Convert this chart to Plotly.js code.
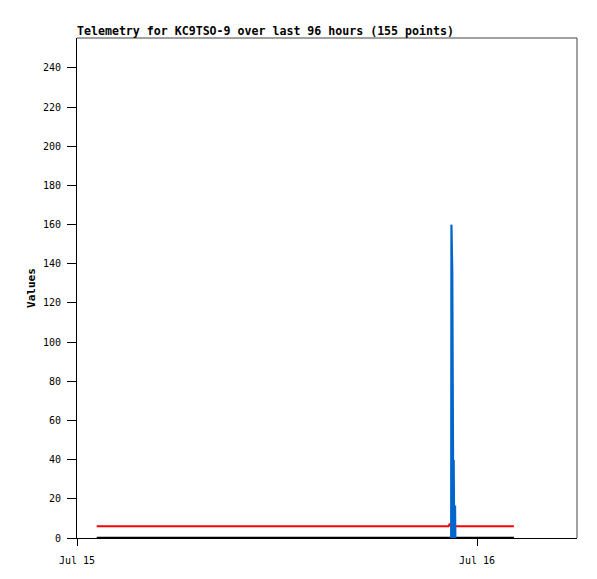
<!DOCTYPE html>
<html>
<head>
<meta charset="utf-8">
<script src="https://cdn.plot.ly/plotly-3.0.1.min.js"></script>
<style>html,body{margin:0;padding:0;background:#fff;}#chart{width:597px;height:579px;}</style>
</head>
<body>
<div id="chart"></div>
<script>
// Series
const blackTimes = ["2024-07-15 01:11", "2024-07-16 02:13"];
const blackValues = [0, 0];

const redTimes = ["2024-07-15 01:11", "2024-07-15 22:18", "2024-07-15 22:21", "2024-07-15 22:28", "2024-07-15 22:31", "2024-07-16 02:13"];
const redValues = [6, 6, 7, 7, 6, 6];

const blueTimes = ["2024-07-15 22:27", "2024-07-15 22:28", "2024-07-15 22:31", "2024-07-15 22:32", "2024-07-15 22:34", "2024-07-15 22:35", "2024-07-15 22:36", "2024-07-15 22:38", "2024-07-15 22:39", "2024-07-15 22:41", "2024-07-15 22:42"];
const blueValues = [0, 160, 136, 88, 40, 0, 40, 0, 16, 16, 0];

const xTickVals = ["2024-07-15", "2024-07-16"];
const xTickText = ["Jul 15", "Jul 16"];
const yTickVals = [0, 20, 40, 60, 80, 100, 120, 140, 160, 180, 200, 220, 240];

const mono = "DejaVu Sans Mono, monospace";

const traces = [
  {x: blackTimes, y: blackValues, type: "scatter", mode: "lines", line: {color: "#000000", width: 2.5}, hoverinfo: "skip"},
  {x: redTimes, y: redValues, type: "scatter", mode: "lines", line: {color: "#ff0000", width: 2}, hoverinfo: "skip"},
  {x: blueTimes, y: blueValues, type: "scatter", mode: "lines", line: {color: "#0066cc", width: 2.2}, hoverinfo: "skip"}
];

const layout = {
  width: 597, height: 579,
  margin: {l: 77, r: 20, t: 38, b: 41},
  paper_bgcolor: "#ffffff", plot_bgcolor: "#ffffff",
  showlegend: false,
  font: {family: mono, size: 10, color: "#000"},
  title: {text: "<b>Telemetry for KC9TSO-9 over last 96 hours (155 points)</b>", font: {family: mono, size: 11.6, color: "#000"},
          x: 0, xref: "paper", xanchor: "left", y: 1, yref: "paper", yanchor: "bottom", pad: {b: 3}},
  xaxis: {
    type: "date", range: ["2024-07-15 00:00", "2024-07-16 06:00"],
    tickvals: xTickVals, ticktext: xTickText,
    ticks: "outside", ticklen: 7, tickcolor: "#000", tickwidth: 1,
    ticklabelstandoff: 6,
    showline: true, linecolor: "#000", linewidth: 1,
    showgrid: false, zeroline: false, fixedrange: true,
    tickfont: {family: mono, size: 10, color: "#000"}
  },
  yaxis: {
    range: [0, 255.3],
    tickvals: yTickVals,
    ticks: "outside", ticklen: 9, tickcolor: "#000", tickwidth: 1,
    ticklabelstandoff: 4,
    showline: true, linecolor: "#000", linewidth: 1,
    showgrid: false, zeroline: false, fixedrange: true,
    tickfont: {family: mono, size: 10, color: "#000"},
    title: {text: "<b>Values</b>", font: {family: mono, size: 11, color: "#000"}, standoff: 5}
  },
  shapes: [
    {type: "line", xref: "paper", yref: "paper", x0: 0, x1: 1, y0: 1, y1: 1, line: {color: "#444", width: 1}},
    {type: "line", xref: "paper", yref: "paper", x0: 1, x1: 1, y0: 0, y1: 1, line: {color: "#444", width: 1}}
  ]
};

Plotly.newPlot("chart", traces, layout, {staticPlot: true, displayModeBar: false});
</script>
</body>
</html>
